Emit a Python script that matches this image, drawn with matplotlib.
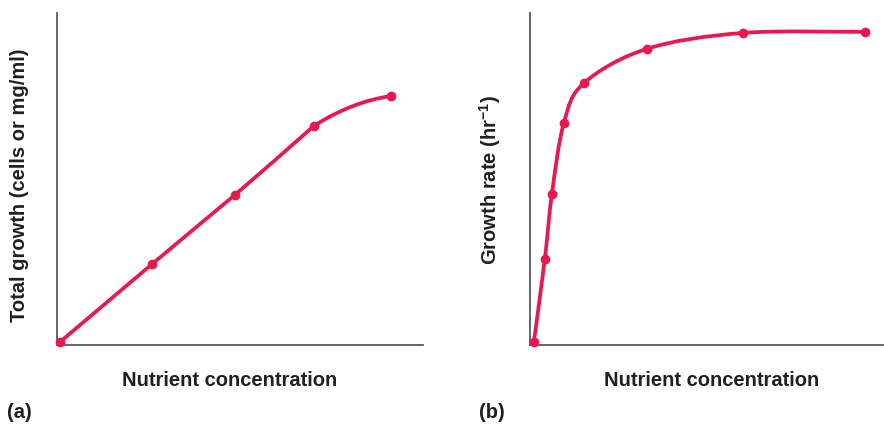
import numpy as np
import matplotlib
matplotlib.use("Agg")
import matplotlib.pyplot as plt
from matplotlib.path import Path
from matplotlib.patches import PathPatch

# (a) total growth vs nutrient concentration
conc_a = [0.08, 2.6, 4.86, 7.02, 9.13]
growth_a = [0.09, 2.44, 4.52, 6.6, 7.5]

# (b) growth rate vs nutrient concentration
conc_b = [0.11, 0.42, 0.62, 0.96, 1.53, 3.31, 6.03, 9.49]
rate_b = [0.09, 2.59, 4.55, 6.69, 7.89, 8.92, 9.40, 9.43]

RED = '#E8194F'
SPINE = '#5a5a5a'
TXT = '#231F20'
FS = 14.5

plt.rcParams['font.family'] = 'Liberation Sans'
plt.rcParams['mathtext.fontset'] = 'custom'
plt.rcParams['mathtext.rm'] = 'Liberation Sans'
plt.rcParams['mathtext.bf'] = 'Liberation Sans:bold'


def catmull_path(x, y, tension=1 / 6):
    # catmull-rom -> cubic bezier through the data points
    pts = np.column_stack([x, y])
    verts = [pts[0]]
    codes = [Path.MOVETO]
    n = len(pts)
    for i in range(n - 1):
        p0 = pts[i - 1] if i > 0 else pts[i]
        p1 = pts[i]
        p2 = pts[i + 1]
        p3 = pts[i + 2] if i + 2 < n else pts[i + 1]
        verts += [p1 + (p2 - p0) * tension, p2 - (p3 - p1) * tension, p2]
        codes += [Path.CURVE4] * 3
    return Path(verts, codes)


def hermite_path(x, y):
    # segments arrive along their chord and leave with the central slope,
    # the last one bends off quadratically
    x = np.asarray(x, float)
    y = np.asarray(y, float)
    s = np.diff(y) / np.diff(x)
    m_out = np.empty(len(x) - 1)
    m_out[0] = s[0]
    m_out[1:] = (y[2:] - y[:-2]) / (x[2:] - x[:-2])
    m_in = s.copy()
    m_in[-1] = 2 * s[-1] - m_out[-1]
    verts = [(x[0], y[0])]
    codes = [Path.MOVETO]
    for i in range(len(x) - 1):
        h = x[i + 1] - x[i]
        verts += [(x[i] + h / 3, y[i] + m_out[i] * h / 3),
                  (x[i + 1] - h / 3, y[i + 1] - m_in[i] * h / 3),
                  (x[i + 1], y[i + 1])]
        codes += [Path.CURVE4] * 3
    return Path(verts, codes)


def style_ax(ax):
    for s in ['top', 'right']:
        ax.spines[s].set_visible(False)
    for s in ['left', 'bottom']:
        ax.spines[s].set_color(SPINE)
        ax.spines[s].set_linewidth(1.3)
    ax.set_xticks([])
    ax.set_yticks([])
    ax.set_xlim(0, 10)
    ax.set_ylim(0, 10)


fig = plt.figure(figsize=(8.84, 4.25), dpi=100)
ax1 = fig.add_axes([57 / 884, 80 / 425, 366 / 884, 332 / 425])
ax2 = fig.add_axes([530 / 884, 80 / 425, 353 / 884, 332 / 425])

for ax, x, y, path in [(ax1, conc_a, growth_a, hermite_path(conc_a, growth_a)),
                       (ax2, conc_b, rate_b, catmull_path(conc_b, rate_b))]:
    style_ax(ax)
    ax.add_patch(PathPatch(path, facecolor='none', edgecolor=RED, lw=2.7,
                           capstyle='round', zorder=3, clip_on=False))
    ax.plot(x, y, 'o', color=RED, ms=6, zorder=4, clip_on=False)

fig.text(20 / 884, 1 - 185 / 425, 'Total growth (cells or mg/ml)',
         rotation=90, ha='center', va='center', fontsize=FS,
         fontweight='bold', color=TXT)
fig.text(490 / 884, 1 - 180 / 425, r'Growth rate (hr$^{\mathbf{-1}}$)',
         rotation=90, ha='center', va='center', fontsize=FS,
         fontweight='bold', color=TXT)
fig.text(229.5 / 884, 1 - 381 / 425, 'Nutrient concentration',
         ha='center', va='center', fontsize=FS, fontweight='bold', color=TXT)
fig.text(712 / 884, 1 - 381 / 425, 'Nutrient concentration',
         ha='center', va='center', fontsize=FS, fontweight='bold', color=TXT)
fig.text(7 / 884, 1 - 412 / 425, '(a)', ha='left', va='center',
         fontsize=FS, fontweight='bold', color=TXT)
fig.text(479 / 884, 1 - 412 / 425, '(b)', ha='left', va='center',
         fontsize=FS, fontweight='bold', color=TXT)

fig.savefig('out.png', dpi=100)
